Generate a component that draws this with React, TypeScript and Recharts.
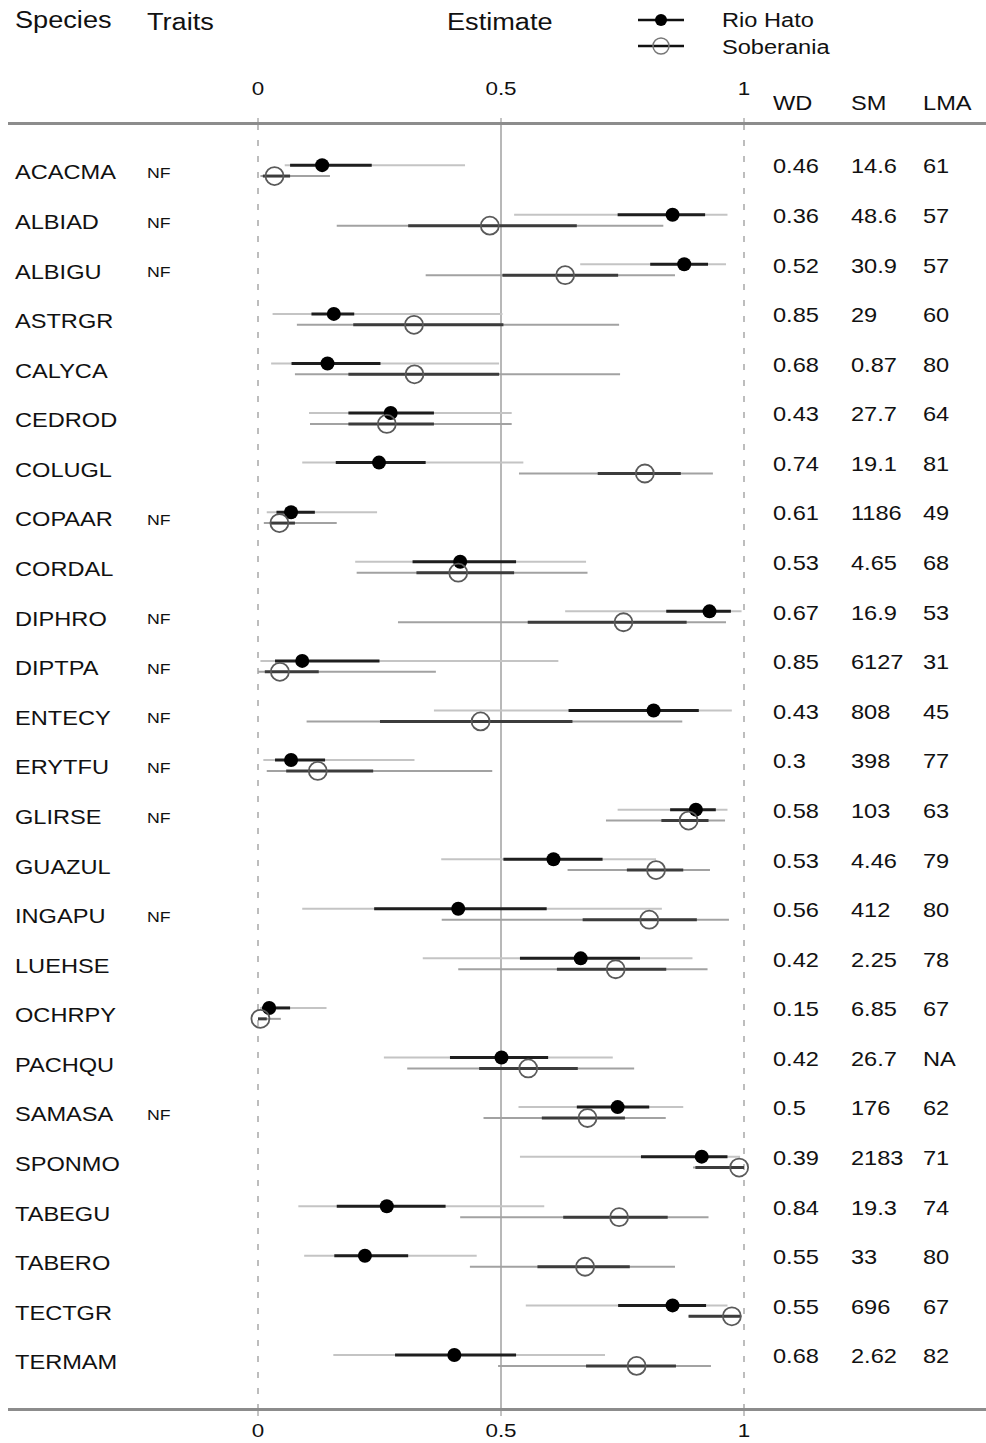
import React from 'react';
import {
  ScatterChart,
  Scatter,
  XAxis,
  YAxis,
  ErrorBar,
  ReferenceLine,
} from 'recharts';

const species = ['ACACMA', 'ALBIAD', 'ALBIGU', 'ASTRGR', 'CALYCA', 'CEDROD', 'COLUGL', 'COPAAR', 'CORDAL', 'DIPHRO', 'DIPTPA', 'ENTECY', 'ERYTFU', 'GLIRSE', 'GUAZUL', 'INGAPU', 'LUEHSE', 'OCHRPY', 'PACHQU', 'SAMASA', 'SPONMO', 'TABEGU', 'TABERO', 'TECTGR', 'TERMAM'];
const traits = ['NF', 'NF', 'NF', '', '', '', '', 'NF', '', 'NF', 'NF', 'NF', 'NF', 'NF', '', 'NF', '', '', '', 'NF', '', '', '', '', ''];
const wd = ['0.46', '0.36', '0.52', '0.85', '0.68', '0.43', '0.74', '0.61', '0.53', '0.67', '0.85', '0.43', '0.3', '0.58', '0.53', '0.56', '0.42', '0.15', '0.42', '0.5', '0.39', '0.84', '0.55', '0.55', '0.68'];
const sm = ['14.6', '48.6', '30.9', '29', '0.87', '27.7', '19.1', '1186', '4.65', '16.9', '6127', '808', '398', '103', '4.46', '412', '2.25', '6.85', '26.7', '176', '2183', '19.3', '33', '696', '2.62'];
const lma = ['61', '57', '57', '60', '80', '64', '81', '49', '68', '53', '31', '45', '77', '63', '79', '80', '78', '67', 'NA', '62', '71', '74', '80', '67', '82'];

// Rio Hato: estimate, outer (95%) and inner (50%) intervals
const rhEst = [0.132, 0.853, 0.877, 0.156, 0.143, 0.273, 0.249, 0.068, 0.416, 0.929, 0.091, 0.814, 0.068, 0.901, 0.608, 0.412, 0.664, 0.023, 0.501, 0.74, 0.913, 0.265, 0.22, 0.853, 0.404];
const rhLo95 = [0.055, 0.527, 0.663, 0.03, 0.027, 0.105, 0.091, 0.018, 0.2, 0.632, 0.005, 0.362, 0.011, 0.74, 0.377, 0.091, 0.339, 0.004, 0.259, 0.536, 0.539, 0.083, 0.095, 0.551, 0.155];
const rhHi95 = [0.426, 0.966, 0.963, 0.503, 0.496, 0.522, 0.546, 0.245, 0.675, 0.995, 0.618, 0.975, 0.322, 0.966, 0.819, 0.831, 0.894, 0.141, 0.73, 0.875, 0.992, 0.589, 0.45, 0.966, 0.714];
const rhLo50 = [0.066, 0.74, 0.807, 0.11, 0.069, 0.186, 0.16, 0.038, 0.318, 0.84, 0.035, 0.639, 0.035, 0.848, 0.505, 0.239, 0.539, 0.008, 0.395, 0.656, 0.788, 0.162, 0.157, 0.741, 0.282];
const rhHi50 = [0.234, 0.92, 0.926, 0.198, 0.252, 0.362, 0.345, 0.117, 0.531, 0.973, 0.25, 0.907, 0.138, 0.942, 0.709, 0.594, 0.786, 0.066, 0.597, 0.805, 0.966, 0.386, 0.309, 0.922, 0.531];

// Soberania
const soEst = [0.034, 0.477, 0.632, 0.321, 0.322, 0.265, 0.796, 0.044, 0.412, 0.752, 0.045, 0.458, 0.123, 0.886, 0.819, 0.805, 0.736, 0.005, 0.556, 0.678, 0.99, 0.743, 0.673, 0.975, 0.779];
const soLo95 = [0.005, 0.162, 0.345, 0.08, 0.076, 0.107, 0.537, 0.012, 0.203, 0.288, 0.0, 0.1, 0.018, 0.716, 0.637, 0.378, 0.412, 0.0, 0.307, 0.464, 0.895, 0.416, 0.436, 0.886, 0.494];
const soHi95 = [0.148, 0.834, 0.858, 0.743, 0.745, 0.522, 0.936, 0.162, 0.678, 0.963, 0.366, 0.873, 0.482, 0.961, 0.93, 0.969, 0.925, 0.047, 0.774, 0.839, 1.0, 0.927, 0.858, 0.995, 0.932];
const soLo50 = [0.01, 0.309, 0.503, 0.196, 0.186, 0.186, 0.699, 0.025, 0.326, 0.555, 0.014, 0.251, 0.058, 0.83, 0.759, 0.668, 0.615, 0.0, 0.455, 0.584, 0.9, 0.628, 0.575, 0.886, 0.675];
const soHi50 = [0.066, 0.656, 0.741, 0.505, 0.496, 0.362, 0.87, 0.076, 0.527, 0.882, 0.125, 0.647, 0.237, 0.927, 0.875, 0.903, 0.84, 0.018, 0.658, 0.755, 1.0, 0.843, 0.765, 0.992, 0.86];

const xTicks = [0, 0.5, 1];
const ROW_SHIFT = 0.11;
const FONT = '"Liberation Sans", Arial, Helvetica, sans-serif';
const STRETCH = 1.18; // the original lettering is a bit wide

const buildSite = (est: number[], lo95: number[], hi95: number[], lo50: number[], hi50: number[], shift: number) =>
  est.map((v, i) => ({
    x: v,
    y: i + 1 + shift,
    outer: [v - lo95[i], hi95[i] - v],
    inner: [v - lo50[i], hi50[i] - v],
  }));

const rioHato = buildSite(rhEst, rhLo95, rhHi95, rhLo50, rhHi50, -ROW_SHIFT);
const soberania = buildSite(soEst, soLo95, soHi95, soLo50, soHi50, ROW_SHIFT);
const rowTicks = species.map((_, i) => i + 1);

const FilledDot = (props: any) => <circle cx={props.cx} cy={props.cy} r={7} fill="#000" />;
const OpenDot = (props: any) => (
  <circle cx={props.cx} cy={props.cy} r={9} fill="none" stroke="#5a5a5a" strokeWidth={1.8} />
);

const Wide = ({ x, y, size, anchor = 'start', children }: any) => (
  <text
    transform={`translate(${x} ${y}) scale(${STRETCH} 1)`}
    fontSize={size}
    fontFamily={FONT}
    fill="#111"
    textAnchor={anchor}
    dominantBaseline="central"
  >
    {children}
  </text>
);

const RowTick = (props: any) => {
  const i = props.payload.value - 1;
  const y = props.y;
  return (
    <g>
      <Wide x={15} y={y + 2} size={20}>{species[i]}</Wide>
      <Wide x={147} y={y + 2} size={15}>{traits[i]}</Wide>
      <Wide x={773} y={y - 4} size={20}>{wd[i]}</Wide>
      <Wide x={851} y={y - 4} size={20}>{sm[i]}</Wide>
      <Wide x={923} y={y - 4} size={20}>{lma[i]}</Wide>
    </g>
  );
};

const TopTick = (props: any) => (
  <Wide x={props.x} y={props.y - 28} size={19} anchor="middle">{props.payload.value}</Wide>
);
const BottomTick = (props: any) => (
  <Wide x={props.x} y={props.y + 12} size={19} anchor="middle">{props.payload.value}</Wide>
);

const hdr: React.CSSProperties = {
  position: 'absolute',
  fontFamily: FONT,
  fontSize: 20,
  color: '#111',
  lineHeight: '26px',
  whiteSpace: 'nowrap',
  transform: `scaleX(${STRETCH})`,
  transformOrigin: 'left center',
};

export default function App() {
  return (
    <div style={{ position: 'absolute', left: 0, top: 0, width: 986, height: 1443, background: '#fff', overflow: 'hidden' }}>
      <ScatterChart width={986} height={1443} margin={{ top: 0, right: 242, bottom: 0, left: 0 }}>
        <XAxis xAxisId="top" orientation="top" type="number" dataKey="x" domain={[0, 1]} allowDataOverflow ticks={xTicks} height={124} axisLine={false} tickLine={{ stroke: '#888' }} tickSize={6} tick={<TopTick />} />
        <XAxis xAxisId="bottom" orientation="bottom" type="number" dataKey="x" domain={[0, 1]} ticks={xTicks} height={33} axisLine={false} tickLine={{ stroke: '#888' }} tickSize={6} tick={<BottomTick />} />
        <YAxis type="number" dataKey="y" domain={[0.06, 26]} reversed ticks={rowTicks} width={258} axisLine={false} tickLine={false} tick={<RowTick />} interval={0} />
        <ReferenceLine xAxisId="bottom" x={0} stroke="#a8a8a8" strokeWidth={1.5} strokeDasharray="6 10" />
        <ReferenceLine xAxisId="bottom" x={0.5} stroke="#a0a0a0" strokeWidth={1.5} />
        <ReferenceLine xAxisId="bottom" x={1} stroke="#a8a8a8" strokeWidth={1.5} strokeDasharray="6 10" />
        <Scatter xAxisId="bottom" data={rioHato} shape={<FilledDot />} isAnimationActive={false}>
          <ErrorBar dataKey="outer" direction="x" width={0} stroke="#c4c4c4" strokeWidth={2} />
          <ErrorBar dataKey="inner" direction="x" width={0} stroke="#1e1e1e" strokeWidth={3} />
        </Scatter>
        <Scatter xAxisId="bottom" data={soberania} shape={<OpenDot />} isAnimationActive={false}>
          <ErrorBar dataKey="outer" direction="x" width={0} stroke="#a2a2a2" strokeWidth={2} />
          <ErrorBar dataKey="inner" direction="x" width={0} stroke="#3c3c3c" strokeWidth={3} />
        </Scatter>
      </ScatterChart>

      {/* frame lines above and below the rows */}
      <div style={{ position: 'absolute', left: 8, top: 122, width: 978, height: 3, background: '#8c8c8c' }} />
      <div style={{ position: 'absolute', left: 8, top: 1408, width: 978, height: 3, background: '#8c8c8c' }} />

      <div style={{ ...hdr, left: 15, top: 7, fontSize: 23 }}>Species</div>
      <div style={{ ...hdr, left: 147, top: 9, fontSize: 23 }}>Traits</div>
      <div style={{ ...hdr, left: 447, top: 9, fontSize: 23 }}>Estimate</div>
      <div style={{ ...hdr, left: 773, top: 90 }}>WD</div>
      <div style={{ ...hdr, left: 851, top: 90 }}>SM</div>
      <div style={{ ...hdr, left: 923, top: 90 }}>LMA</div>

      <svg style={{ position: 'absolute', left: 630, top: 5, width: 70, height: 56 }}>
        <line x1={8} y1={15} x2={54} y2={15} stroke="#111" strokeWidth={2.5} />
        <circle cx={31} cy={15} r={6} fill="#000" />
        <line x1={8} y1={41} x2={54} y2={41} stroke="#111" strokeWidth={2.5} />
        <circle cx={31} cy={41} r={8} fill="none" stroke="#777" strokeWidth={1.5} />
      </svg>
      <div style={{ ...hdr, left: 722, top: 7 }}>Rio Hato</div>
      <div style={{ ...hdr, left: 722, top: 34 }}>Soberania</div>
    </div>
  );
}
